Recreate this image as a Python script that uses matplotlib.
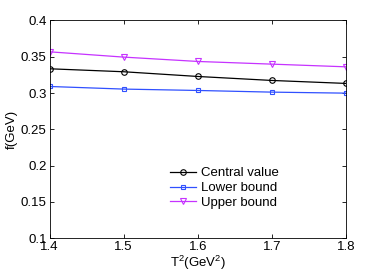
import matplotlib
matplotlib.use("Agg")
import matplotlib.pyplot as plt

plt.rcParams['font.family'] = ['Liberation Sans', 'DejaVu Sans']
plt.rcParams['mathtext.fontset'] = 'custom'
plt.rcParams['mathtext.rm'] = 'Liberation Sans'

# Borel parameter T^2 (GeV^2)
t2 = [1.4, 1.5, 1.6, 1.7, 1.8]
central = [0.3334, 0.3293, 0.3228, 0.3173, 0.3132]
lower = [0.3090, 0.3054, 0.3035, 0.3012, 0.2998]
upper = [0.3568, 0.3495, 0.3435, 0.3398, 0.3361]

fig = plt.figure(figsize=(3.82, 2.73), dpi=100)
ax = fig.add_axes([0.1296, 0.128, 0.7762, 0.797])

ax.plot(t2, central, color='k', marker='o', ms=4, mfc='none', lw=0.9, mew=0.8, label='Central value')
ax.plot(t2, lower, color='#3050ff', marker='s', ms=3.5, mfc='none', lw=0.9, mew=0.8, label='Lower bound')
ax.plot(t2, upper, color='#c633ff', marker='v', ms=4, mfc='none', lw=0.9, mew=0.8, label='Upper bound')

ax.set_xlim(1.4, 1.8)
ax.set_ylim(0.1, 0.4)
ax.set_xticks(t2)
ax.set_xticklabels(['1.4', '1.5', '1.6', '1.7', '1.8'])
ax.set_yticks([0.1, 0.15, 0.2, 0.25, 0.3, 0.35, 0.4])
ax.set_yticklabels(['0.1', '0.15', '0.2', '0.25', '0.3', '0.35', '0.4'])
ax.tick_params(direction='in', top=True, right=True, labelsize=9.5, length=3, width=0.6, pad=2)
for s in ax.spines.values():
    s.set_linewidth(0.6)

ax.set_xlabel('T$^2$(GeV$^2$)', fontsize=9.5, labelpad=1)
ax.set_ylabel('f(GeV)', fontsize=9.5, labelpad=2)

ax.legend(loc='center', bbox_to_anchor=(0.59, 0.23), frameon=False, fontsize=9.5,
          handlelength=2.0, handletextpad=0.4, labelspacing=0.2, borderpad=0)

fig.savefig('out.png', dpi=100)
